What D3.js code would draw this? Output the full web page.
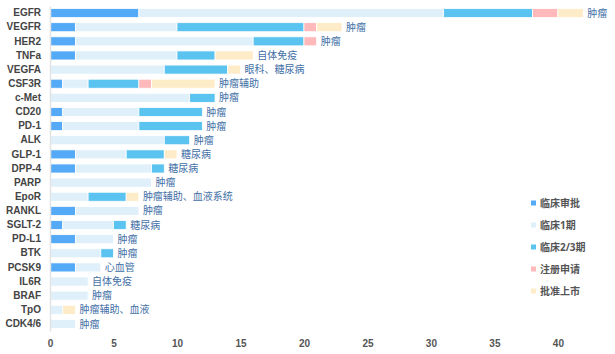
<!DOCTYPE html>
<html>
<head>
<meta charset="utf-8">
<script src="https://cdn.jsdelivr.net/npm/d3@7"></script>
<style>
  body { margin: 0; background: #fff; }
  svg { font-family: "Open Sans", "Noto Sans CJK SC", sans-serif; }
</style>
</head>
<body>
<svg id="drawing_region"></svg>
<script>
// targets, top to bottom
const targets = ['EGFR','VEGFR','HER2','TNFa','VEGFA','CSF3R','c-Met','CD20','PD-1','ALK','GLP-1','DPP-4','PARP','EpoR','RANKL','SGLT-2','PD-L1','BTK','PCSK9','IL6R','BRAF','TpO','CDK4/6'];
const areas = ['肿瘤','肿瘤','肿瘤','自体免疫','眼科、糖尿病','肿瘤辅助','肿瘤','肿瘤','肿瘤','肿瘤','糖尿病','糖尿病','肿瘤','肿瘤辅助、血液系统','肿瘤','糖尿病','肿瘤','肿瘤','心血管','自体免疫','肿瘤','肿瘤辅助、血液','肿瘤'];

const stages = ['临床审批','临床1期','临床2/3期','注册申请','批准上市'];
const review = [7,2,2,2,0,1,0,1,1,0,2,2,0,0,2,1,2,0,2,0,0,0,0];
const phase1 = [24,8,14,8,9,2,11,6,6,9,4,6,8,3,5,4,3,4,2,3,3,1,2];
const phase23 = [7,10,4,3,5,4,2,5,5,2,3,1,0,3,0,1,0,1,0,0,0,0,0];
const filing = [2,1,1,0,0,1,0,0,0,0,0,0,0,0,0,0,0,0,0,0,0,0,0];
const approved = [2,2,0,3,1,5,0,0,0,0,1,0,0,1,0,0,0,0,0,0,0,1,0];
const xTicks = [0,5,10,15,20,25,30,35,40];

const colors = ['#55aaf7','#dff0fb','#5ac3f0','#ffb9bb','#feecc8'];

const width = 615, height = 354;
const margin = {top: 6, right: 19, bottom: 23, left: 50};

const svg = d3.select('#drawing_region')
    .attr('width', width)
    .attr('height', height);

const data = targets.map((t, i) => ({
    target: t, area: areas[i],
    '临床审批': review[i], '临床1期': phase1[i], '临床2/3期': phase23[i],
    '注册申请': filing[i], '批准上市': approved[i]
}));

const series = d3.stack().keys(stages)(data);

const x = d3.scaleLinear()
    .domain([0, 43])
    .range([margin.left, width - margin.right]);

const y = d3.scaleBand()
    .domain(targets)
    .range([margin.top, height - margin.bottom])
    .paddingInner(0.36)
    .paddingOuter(0.18);

const color = d3.scaleOrdinal(stages, colors);

// bars
svg.append('g')
  .selectAll('g')
  .data(series)
  .join('g')
    .attr('fill', d => color(d.key))
  .selectAll('rect')
  .data(d => d.filter(s => s[1] > s[0]))
  .join('rect')
    .attr('x', d => x(d[0]))
    .attr('y', d => y(d.data.target))
    .attr('width', d => x(d[1]) - x(d[0]))
    .attr('height', y.bandwidth())
    .attr('stroke', '#fff')
    .attr('stroke-width', 0.8);

// y axis
const yAxis = svg.append('g')
    .attr('transform', `translate(${margin.left},0)`)
    .call(d3.axisLeft(y).tickSize(0).tickPadding(9));
yAxis.select('.domain').attr('stroke', '#e3e3e3').attr('stroke-width', 1.5);
yAxis.selectAll('text')
    .attr('fill', '#444')
    .style('font-size', '10px')
    .style('font-weight', 'bold');

// x axis
const xAxis = svg.append('g')
    .attr('transform', `translate(0,${height - margin.bottom})`)
    .call(d3.axisBottom(x).tickValues(xTicks).tickSize(0).tickPadding(9));
xAxis.select('.domain').remove();
xAxis.selectAll('text')
    .attr('fill', '#555')
    .style('font-size', '10px')
    .style('font-weight', 'bold');

// area labels
svg.append('g')
  .selectAll('text')
  .data(data)
  .join('text')
    .attr('x', d => x(d3.sum(stages, k => d[k])) + 4)
    .attr('y', d => y(d.target) + y.bandwidth() / 2)
    .attr('dy', '0.36em')
    .attr('fill', '#3f6fa6')
    .style('font-size', '10px')
    .text(d => d.area);

// legend
const legend = svg.append('g')
  .selectAll('g')
  .data(stages)
  .join('g')
    .attr('transform', (d, i) => `translate(531,${203 + i * 22})`);
legend.append('rect')
    .attr('x', 0).attr('y', -2.5)
    .attr('width', 5).attr('height', 5)
    .attr('fill', d => color(d));
legend.append('text')
    .attr('x', 9)
    .attr('dy', '0.35em')
    .attr('fill', '#555')
    .style('font-size', '10px')
    .style('font-weight', 'bold')
    .text(d => d);
</script>
</body>
</html>
